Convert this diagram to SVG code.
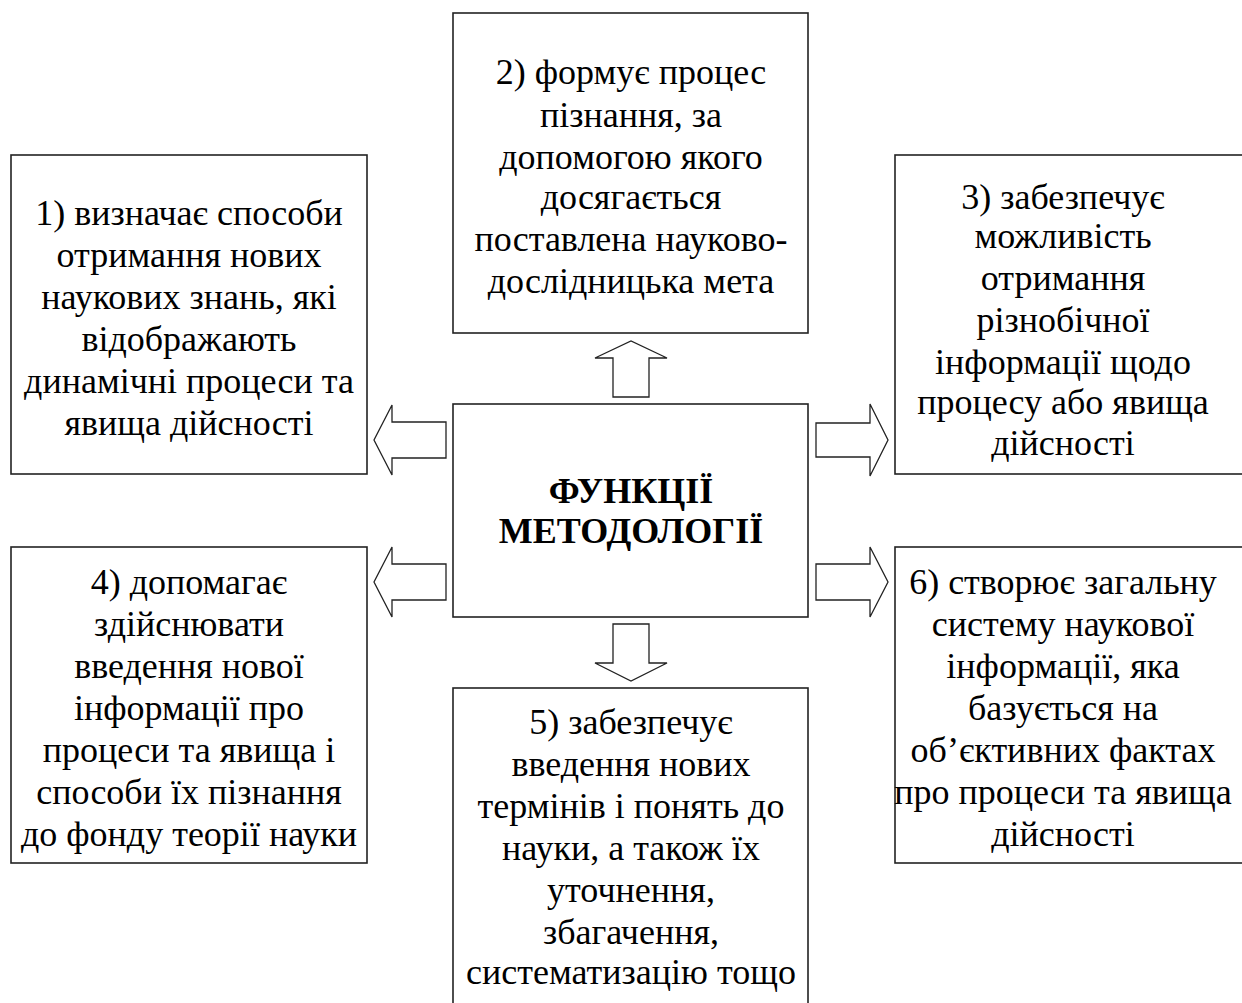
<svg xmlns="http://www.w3.org/2000/svg" width="1242" height="1003" viewBox="0 0 1242 1003">
<style>
.box{fill:#fff;stroke:#222;stroke-width:1.6}
.arr{fill:#fff;stroke:#222;stroke-width:1.3;stroke-linejoin:miter}
text{font-family:"Liberation Serif","Times New Roman",serif;font-size:36px;fill:#000;text-anchor:middle}
.t{font-weight:bold}
</style>
<rect width="1242" height="1003" fill="#fff"/>
<g id="connectors">
<polygon class="arr" points="446,422 392,422 392,405 374,440 392,475 392,458 446,458"/>
<polygon class="arr" points="613,397 613,358 595,358 631,341 667,358 649,358 649,397"/>
<polygon class="arr" points="816,423 870,423 870,404 888,440 870,476 870,457 816,457"/>
<polygon class="arr" points="613,624 613,663 595,663 631,681 667,663 649,663 649,624"/>
<polygon class="arr" points="446,564 392,564 392,547 374,582 392,617 392,600 446,600"/>
<polygon class="arr" points="816,564 870,564 870,547 888,582 870,617 870,600 816,600"/>
</g>
<g id="node-center">
<rect class="box" x="453" y="404" width="355" height="213"/>
<text class="t" x="631" y="503">ФУНКЦІЇ</text>
<text class="t" x="631" y="543">МЕТОДОЛОГІЇ</text>
</g>
<g id="node-2">
<rect class="box" x="453" y="13" width="355" height="320"/>
<text x="631" y="84">2) формує процес</text>
<text x="631" y="127">пізнання, за</text>
<text x="631" y="169">допомогою якого</text>
<text x="631" y="209">досягається</text>
<text x="631" y="251">поставлена науково-</text>
<text x="631" y="293">дослідницька мета</text>
</g>
<g id="node-1">
<rect class="box" x="11" y="155" width="356" height="319"/>
<text x="189" y="225">1) визначає способи</text>
<text x="189" y="267">отримання нових</text>
<text x="189" y="309">наукових знань, які</text>
<text x="189" y="351">відображають</text>
<text x="189" y="393">динамічні процеси та</text>
<text x="189" y="435">явища дійсності</text>
</g>
<g id="node-3">
<rect class="box" x="895" y="155" width="360" height="319"/>
<text x="1063" y="209">3) забезпечує</text>
<text x="1063" y="248">можливість</text>
<text x="1063" y="290">отримання</text>
<text x="1063" y="332">різнобічної</text>
<text x="1063" y="374">інформації щодо</text>
<text x="1063" y="414">процесу або явища</text>
<text x="1063" y="455">дійсності</text>
</g>
<g id="node-4">
<rect class="box" x="11" y="547" width="356" height="316"/>
<text x="189" y="594">4) допомагає</text>
<text x="189" y="636">здійснювати</text>
<text x="189" y="678">введення нової</text>
<text x="189" y="720">інформації про</text>
<text x="189" y="762">процеси та явища і</text>
<text x="189" y="804">способи їх пізнання</text>
<text x="189" y="846">до фонду теорії науки</text>
</g>
<g id="node-6">
<rect class="box" x="895" y="547" width="360" height="316"/>
<text x="1063" y="594">6) створює загальну</text>
<text x="1063" y="636">систему наукової</text>
<text x="1063" y="678">інформації, яка</text>
<text x="1063" y="720">базується на</text>
<text x="1063" y="762">об’єктивних фактах</text>
<text x="1063" y="804">про процеси та явища</text>
<text x="1063" y="846">дійсності</text>
</g>
<g id="node-5">
<rect class="box" x="453" y="688" width="355" height="330"/>
<text x="631" y="734">5) забезпечує</text>
<text x="631" y="776">введення нових</text>
<text x="631" y="818">термінів і понять до</text>
<text x="631" y="860">науки, а також їх</text>
<text x="631" y="902">уточнення,</text>
<text x="631" y="944">збагачення,</text>
<text x="631" y="984">систематизацію тощо</text>
</g>
</svg>
